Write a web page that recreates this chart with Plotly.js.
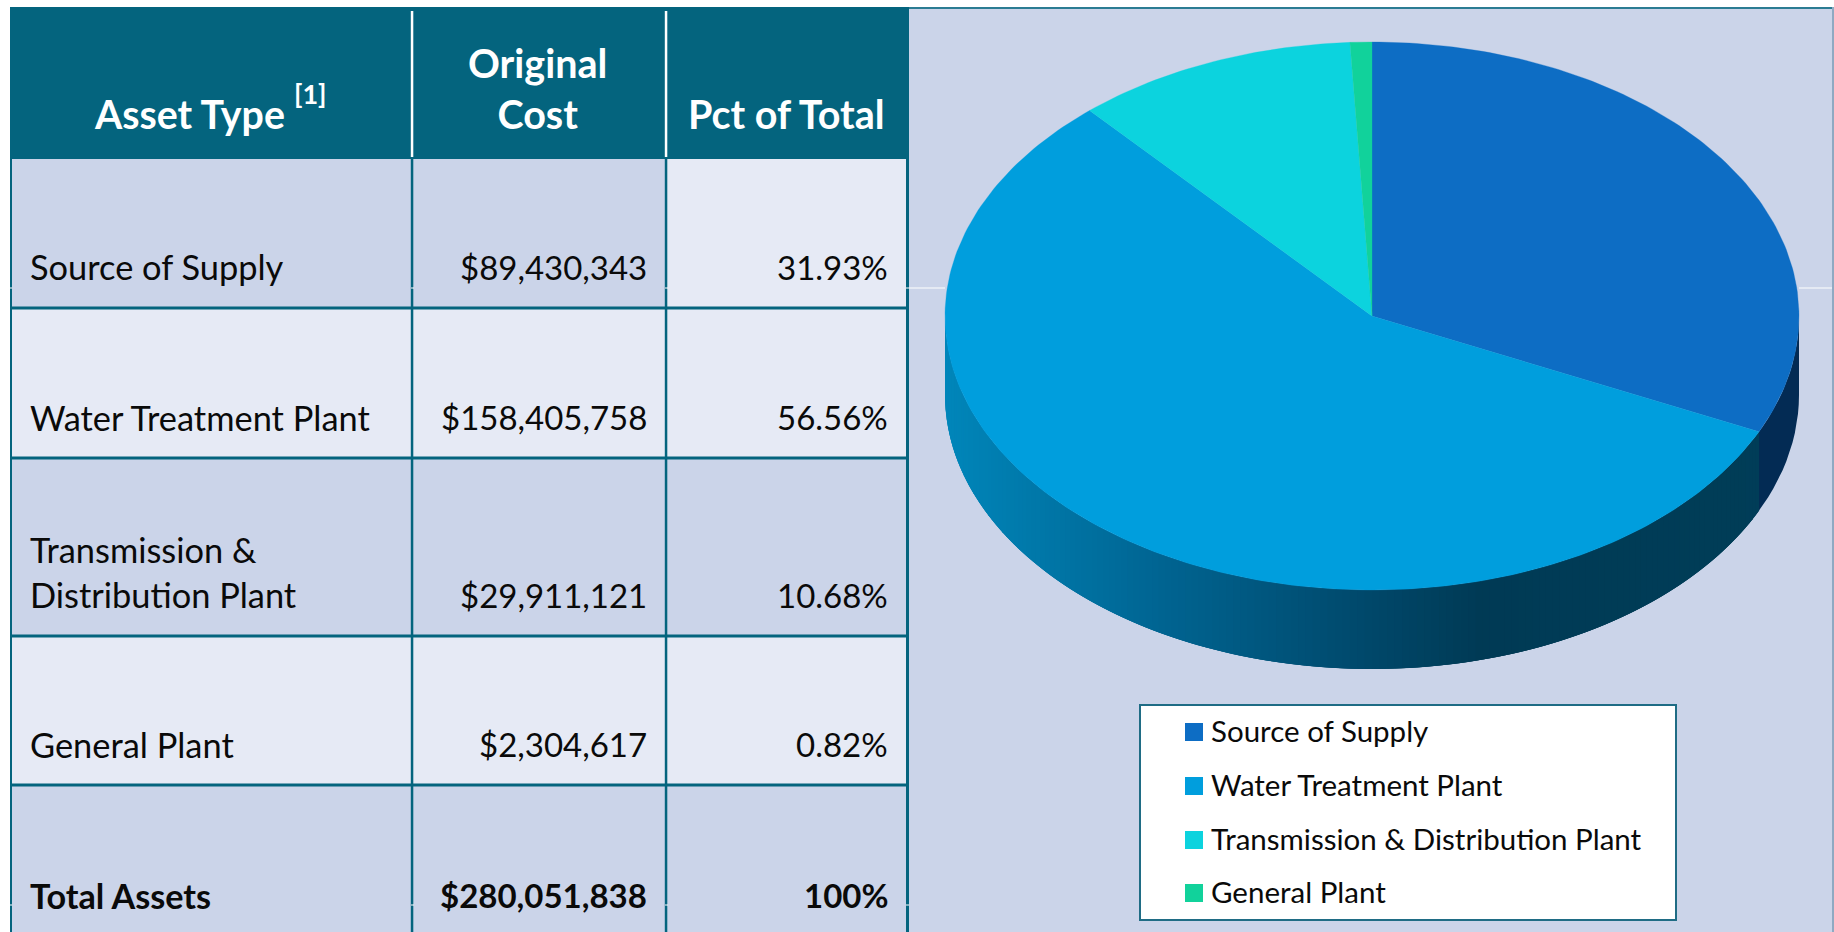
<!DOCTYPE html>
<html><head><meta charset="utf-8">
<script src="https://cdn.plot.ly/plotly-3.0.1.min.js"></script>
<style>html,body{margin:0;padding:0;background:#fff;overflow:hidden}#c{width:1834px;height:932px}</style>
</head><body><div id="c"></div>
<script>
// ---- data ----
const categories = ["Source of Supply", "Water Treatment Plant", "Transmission & Distribution Plant", "General Plant"];
const rowLabels = ["Source of Supply", "Water Treatment Plant", "Transmission &<br>Distribution Plant", "General Plant", "Total Assets"];
const originalCost = [89430343, 158405758, 29911121, 2304617];
const costLabels = ["$89,430,343", "$158,405,758", "$29,911,121", "$2,304,617", "$280,051,838"];
const pctLabels = ["31.93%", "56.56%", "10.68%", "0.82%", "100%"];
const sliceColors = ["#0D6DC4", "#009EDD", "#0CD3DE", "#11D29B"];
const headers = ["Asset Type", "Original<br>Cost", "Pct of Total"];
const footnoteMark = "[1]";

// ---- layout helpers ----
const FONT = "Lato, 'Noto Sans', sans-serif";
const TEAL = "#04647E", DARK = "#CBD4E9", LIGHT = "#E6EAF5", INK = "#0a0a0a";
const shapes = [], annotations = [], traces = [];
function rect(x0, y0, x1, y1, fill) {
  shapes.push({type:"rect", layer:"below", xref:"x", yref:"y", x0, y0, x1, y1, fillcolor:fill, line:{width:0}});
}
function label(x, y, text, size, opts) {
  annotations.push(Object.assign({xref:"x", yref:"y", x, y, text, showarrow:false, xanchor:"left", yanchor:"middle", align:"left",
    borderpad:0, font:{family:FONT, size, color:INK}}, opts || {}));
}

// ---- table ----
const colX = [11, 412, 666, 908];
const rowY = [159, 308, 458, 636, 785, 932];
const rowFill = [[DARK,DARK,LIGHT],[LIGHT,LIGHT,LIGHT],[DARK,DARK,DARK],[LIGHT,LIGHT,LIGHT],[DARK,DARK,DARK]];
rect(909, 7, 1832, 932, DARK);
rect(909, 7, 1834, 9, "#2B7C93");
rect(1832, 7, 1834, 932, "#8FA9C2");
rect(10, 7, 908, 159, TEAL);
rowFill.forEach((r, i) => r.forEach((f, j) => rect(colX[j], rowY[i], colX[j+1], rowY[i+1], f)));
rect(10, 159, 12, 932, TEAL);
rect(906, 7, 909, 932, TEAL);
[410.8, 664.8].forEach(x => { rect(x, 11, x+2.5, 157, "#ffffff"); rect(x, 159, x+2.5, 932, TEAL); });
rowY.slice(1, 5).forEach(y => rect(10, y-1.5, 908, y+1.5, TEAL));
// scan artefacts: thin white hairlines
[[909,945,288],[1799,1832,288],[411,414,288],[665,668,288],[906,909,288],[10,12,288],[10,12,905],[411,414,905],[665,668,905],[906,909,905]]
  .forEach(l => rect(l[0], l[2]-0.5, l[1], l[2]+0.5, "#ffffff"));

// header + body text
const HF = s => ({family:FONT, size:s, color:"#fff", weight:700});
label(189, 113, headers[0], 39.3, {xanchor:"center", align:"center", font:HF(39.3)});
label(310, 93, footnoteMark, 27, {xanchor:"center", align:"center", font:HF(27)});
label(537.5, 88, headers[1], 39.5, {xanchor:"center", align:"center", font:HF(39.5)});
label(786, 113, headers[2], 39.5, {xanchor:"center", align:"center", font:HF(39.5)});
const textY = [266, 417, 572, 744, 895];
rowLabels.forEach((t, i) => {
  const bold = i === 4;
  const lf = {family:FONT, size: bold ? 34.2 : 34.4, color:INK, weight: bold ? 700 : 400};
  const nf = {family:FONT, size: 33, color:INK, weight: bold ? 700 : 400};
  label(29, textY[i], t, lf.size, {font:lf});
  label(647.5, textY[i] + (i === 2 ? 23 : 0) + (i === 0 ? 1 : 0), costLabels[i], 33, {xanchor:"right", align:"right", font:nf});
  label(889, textY[i] + (i === 2 ? 23 : 0) + (i === 0 ? 1 : 0), pctLabels[i], 33, {xanchor:"right", align:"right", font:nf});
});

// ---- 3-D pie, from the values, through the axes ----
const CX = 1372, CY = 316, RX = 427, RY = 274, DEPTH = 79;
const total = originalCost.reduce((a, b) => a + b, 0);
const px = t => CX + RX * Math.sin(t * Math.PI / 180);
const py = t => CY - RY * Math.cos(t * Math.PI / 180);
const steps = [[945,[0,134,186]],[1170,[0,99,144]],[1370,[0,72,106]],[1480,[0,58,85]],[1800,[0,62,88]]];
function wallColor(x) {
  for (let i = 1; i < steps.length; i++) if (x <= steps[i][0]) {
    const a = steps[i-1], b = steps[i], k = Math.max(0, (x - a[0]) / (b[0] - a[0]));
    return "rgb(" + a[1].map((c, n) => Math.round(c + (b[1][n] - c) * k)).join(",") + ")";
  }
  return "rgb(0,62,88)";
}
function wallTrace(a, b, color) {
  const xs = [], ys = [], n = Math.max(1, Math.ceil((b - a) / 2));
  for (let k = 0; k <= n; k++) { const t = a + (b - a) * k / n; xs.push(px(t)); ys.push(py(t)); }
  for (let k = n; k >= 0; k--) { const t = a + (b - a) * k / n; xs.push(px(t)); ys.push(py(t) + DEPTH); }
  xs.push(xs[0]); ys.push(ys[0]);
  traces.push({type:"scatter", mode:"lines", x:xs, y:ys, fill:"toself", fillcolor:color,
    line:{width:0, color}, hoverinfo:"skip", showlegend:false});
}
const boundary = 360 * originalCost[0] / total;
// side wall: right edge (90 deg) round the front to the left edge (270 deg).
// Every strip reaches past the next one, which paints over it, so there are no seams.
wallTrace(90, boundary + 1, "#032B54");
const wallStep = 1;
for (let t = boundary; t < 270; t += wallStep) {
  const mid = Math.min(t + wallStep / 2, 270);
  wallTrace(t, Math.min(t + 3 * wallStep, 270), wallColor(px(mid)));
}
// top face
let cum = 0;
originalCost.forEach((v, i) => {
  const a0 = 360 * cum / total, a1 = 360 * (cum + v) / total;
  const xs = [CX], ys = [CY];
  const n = Math.max(2, Math.ceil(a1 - a0));
  for (let k = 0; k <= n; k++) { const t = a0 + (a1 - a0) * k / n; xs.push(px(t)); ys.push(py(t)); }
  xs.push(CX); ys.push(CY);
  traces.push({type:"scatter", mode:"lines", name:categories[i], x:xs, y:ys, fill:"toself", fillcolor:sliceColors[i],
    line:{color:sliceColors[i], width:0.3}, hoverinfo:"name", showlegend:false});
  cum += v;
});

// ---- legend ----
shapes.push({type:"rect", layer:"below", xref:"x", yref:"y", x0:1140, y0:705, x1:1676, y1:920, fillcolor:"#fff", line:{color:"#1F6C85", width:2}});
const legendY = [732, 786, 840, 893];
categories.forEach((c, i) => {
  rect(1185, legendY[i]-9, 1203, legendY[i]+9, sliceColors[i]);
  label(1209.5, legendY[i]-2, c, 29.5);
});

Plotly.newPlot("c", traces, {
  width:1834, height:932, margin:{l:0, r:0, t:0, b:0, pad:0},
  paper_bgcolor:"#fff", plot_bgcolor:"rgba(0,0,0,0)", showlegend:false,
  xaxis:{range:[0,1834], visible:false, fixedrange:true},
  yaxis:{range:[932,0], visible:false, fixedrange:true},
  shapes, annotations
}, {displayModeBar:false, responsive:false});
</script></body></html>
